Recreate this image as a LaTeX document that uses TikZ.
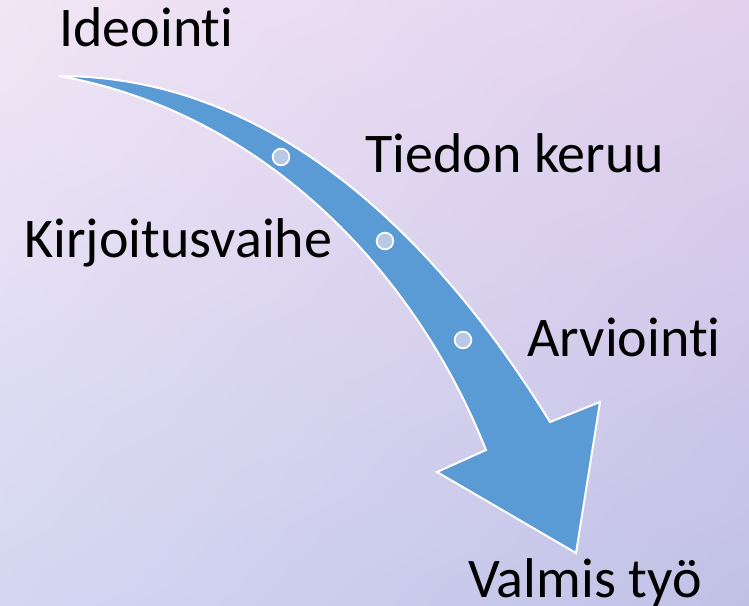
\documentclass[tikz,border=0pt]{standalone}
\usepackage{fontspec}
\setmainfont{Carlito}[Ligatures=NoCommon]
\usetikzlibrary{positioning, shadings}
\definecolor{bgtl}{HTML}{F1E6F5}
\definecolor{bgtr}{HTML}{E3D0EE}
\definecolor{bgbl}{HTML}{D4D7F2}
\definecolor{bgbr}{HTML}{C0C1E6}
\definecolor{arrowblue}{HTML}{5B9BD5}
\definecolor{dotblue}{HTML}{B7C9E6}

\begin{document}
\begin{tikzpicture}[x=0.75pt, y=-0.75pt,
    stage/.style={anchor=base west, inner sep=0pt, font=\fontsize{42}{50}\selectfont},
    stepdot/.style={circle, draw=white, line width=1.3pt, fill=dotblue, minimum size=12.5pt, inner sep=0pt},
    arrowbody/.style={draw=white, line width=1.5pt, fill=arrowblue, line join=miter}]
    % background
    \shade[upper left=bgtl, upper right=bgtr, lower left=bgbl, lower right=bgbr] (0,0) rectangle (749,606);
    \useasboundingbox (0,0) rectangle (749,606);
    % curved arrow
    \coordinate (tail) at (59,76);
    \coordinate (notchup) at (550,422);
    \coordinate (notchlow) at (486,450);
    \draw[arrowbody] (tail) .. controls (281,76) and (444,250) .. (notchup)
        -- (600,402) -- (576,553) -- (437,472) -- (notchlow)
        .. controls (413,266) and (258,111) .. (tail) -- cycle;
    % steps on the arrow
    \node[stepdot] (d1) at (281,157) {};
    \node[stepdot] (d2) at (385,241) {};
    \node[stepdot] (d3) at (463,340) {};
    % labels
    \node[stage] (ideointi) at (59,46.5) {Ideointi};
    \node[stage] (tiedon) at (365,172) {Tiedon keruu};
    \node[stage] (kirjoitus) at (24,257) {Kirjoitusvaihe};
    \node[stage] (arviointi) at (527,356) {Arviointi};
    \node[stage] (valmis) at (468,597) {Valmis työ};
\end{tikzpicture}
\end{document}
